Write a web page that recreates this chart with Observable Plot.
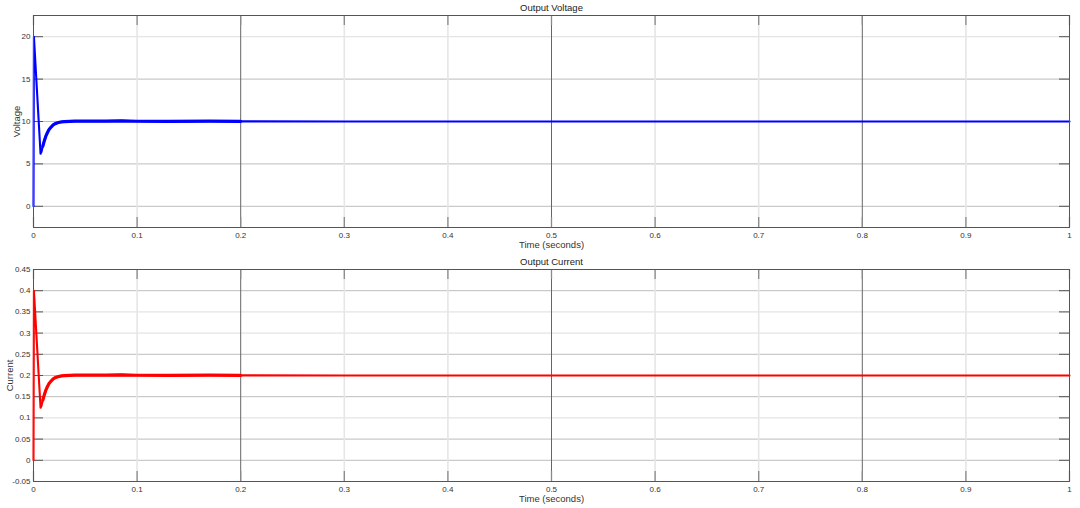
<!DOCTYPE html>
<html><head><meta charset="utf-8">
<script src="https://cdn.jsdelivr.net/npm/d3@7"></script>
<script src="https://cdn.jsdelivr.net/npm/@observablehq/plot@0.6"></script>
<style>
body{margin:0;background:#fff;}
#chart svg{display:block;}
</style>
</head><body><div id="chart"></div>
<script>
// ---- data ----
const time = [0, 0.0004, 0.0068, 0.0078, 0.009, 0.0105, 0.012, 0.0135, 0.015, 0.017, 0.019, 0.021, 0.024, 0.027, 0.03, 0.035, 0.04, 0.05, 0.06, 0.07, 0.085, 0.1, 0.13, 0.17, 0.2, 0.3, 0.4, 0.5, 0.6, 0.7, 0.8, 0.9, 1.0];
const voltage = [0, 20, 6.2, 6.45, 7.1, 7.75, 8.3, 8.7, 9.05, 9.35, 9.6, 9.75, 9.88, 9.95, 9.98, 10.02, 10.05, 10.05, 10.04, 10.04, 10.08, 10.03, 10.02, 10.04, 10.02, 10.0, 10.0, 10.0, 10.0, 10.0, 10.0, 10.0, 10.0];
const current = [0, 0.4, 0.124, 0.129, 0.142, 0.155, 0.166, 0.174, 0.181, 0.187, 0.192, 0.195, 0.1975, 0.199, 0.1996, 0.2004, 0.201, 0.201, 0.2008, 0.2008, 0.2015, 0.2006, 0.2004, 0.2008, 0.2004, 0.2, 0.2, 0.2, 0.2, 0.2, 0.2, 0.2, 0.2];

const timeTicks = [0, 0.1, 0.2, 0.3, 0.4, 0.5, 0.6, 0.7, 0.8, 0.9, 1];
const timeGridDark = [0.2, 0.5, 0.8];
const timeGridLight = [0.1, 0.3, 0.4, 0.6, 0.7, 0.9];

const voltageTicks = [0, 5, 10, 15, 20];
const voltageGridMid = [0, 5, 10, 15];
const voltageGridLight = [20];
const voltageDomain = [-2.5, 22.5];

const currentTicks = [-0.05, 0, 0.05, 0.1, 0.15, 0.2, 0.25, 0.3, 0.35, 0.4, 0.45];
const currentGridMid = [0, 0.05, 0.15, 0.2, 0.25, 0.4];
const currentGridLight = [0.1, 0.3, 0.35];
const currentDomain = [-0.05, 0.45];

const titles = ["Output Voltage", "Output Current"];
const yLabels = ["Voltage", "Current"];
const xLabel = "Time (seconds)";

// ---- drawing ----
const W = 1080, H = 254, mT = 15, mB = 27, mL = 33, mR = 11;
const font = "'Liberation Sans', Arial, Helvetica, sans-serif";

function panel({title, ylabel, values, color, yDomain, yTicks, yMid, yLight, yLabelOffset}) {
  const rows = time.map((t, i) => ({t, v: values[i]}));
  const early = rows.filter(d => d.t >= 0.008 && d.t <= 0.22);
  const plotW = W - mL - mR, plotH = H - mT - mB;
  const tx = 10 / plotW;
  const ty = 10 / plotH * (yDomain[1] - yDomain[0]);
  const [y0, y1] = yDomain;
  return Plot.plot({
    width: W, height: H, marginTop: mT, marginBottom: mB, marginLeft: mL, marginRight: mR,
    style: {fontFamily: font, color: "#333", background: "#fff", overflow: "visible"},
    x: {domain: [0, 1]},
    y: {domain: yDomain},
    marks: [
      Plot.ruleY(yLight, {stroke: "#e4e4e4", strokeWidth: 1.2}),
      Plot.ruleY(yMid, {stroke: "#bdbdbd", strokeWidth: 1}),
      Plot.ruleX(timeGridLight, {stroke: "#e6e6e6", strokeWidth: 1.6}),
      Plot.ruleX(timeGridDark, {stroke: "#666", strokeWidth: 1}),
      Plot.ruleX(timeTicks, {y1: y0, y2: y0 + ty, stroke: "#8a8a8a", strokeWidth: 1.3}),
      Plot.ruleX(timeTicks, {y1: y1, y2: y1 - ty, stroke: "#8a8a8a", strokeWidth: 1.3}),
      Plot.ruleY(yTicks, {x1: 0, x2: tx, stroke: "#555", strokeWidth: 1}),
      Plot.ruleY(yTicks, {x1: 1, x2: 1 - tx, stroke: "#555", strokeWidth: 1}),
      Plot.line(early, {x: "t", y: "v", stroke: color, strokeWidth: 3.2, curve: "linear"}),
      Plot.line(rows, {x: "t", y: "v", stroke: color, strokeWidth: 2.1, curve: "linear"}),
      Plot.frame({stroke: "#555", strokeWidth: 1}),
      Plot.axisX({ticks: timeTicks, tickSize: 0, tickPadding: 5, fontSize: 8, tickFormat: d => String(d),
        label: xLabel, labelAnchor: "center", labelArrow: "none", labelOffset: 20}),
      Plot.axisY({ticks: yTicks, tickSize: 0, tickPadding: 3, fontSize: 8, tickFormat: d => String(d),
        label: ylabel, labelAnchor: "center", labelArrow: "none", labelOffset: yLabelOffset}),
      Plot.text([title], {frameAnchor: "top", dy: -7.5, lineAnchor: "middle", fontSize: 9.5, fill: "#222"})
    ]
  });
}

const chart = document.getElementById("chart");
const top1 = panel({title: titles[0], ylabel: yLabels[0], values: voltage, color: "#0000ff",
  yDomain: voltageDomain, yTicks: voltageTicks, yMid: voltageGridMid, yLight: voltageGridLight, yLabelOffset: 20});
const bot1 = panel({title: titles[1], ylabel: yLabels[1], values: current, color: "#ff0000",
  yDomain: currentDomain, yTicks: currentTicks, yMid: currentGridMid, yLight: currentGridLight, yLabelOffset: 27});
chart.append(top1, bot1);
chart.querySelectorAll("svg g[aria-label='y-axis label'] text, svg g[aria-label='x-axis label'] text").forEach(t => t.setAttribute("font-size", "9.5"));
</script>
</body></html>
